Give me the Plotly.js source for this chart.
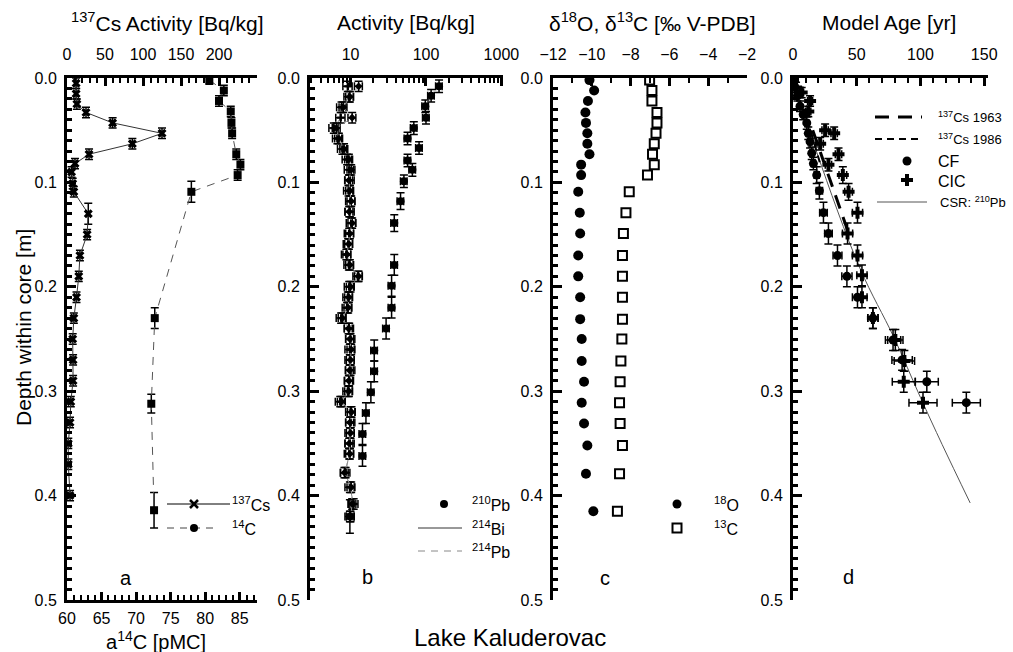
<!DOCTYPE html>
<html><head><meta charset="utf-8">
<script src="https://cdn.plot.ly/plotly-3.0.1.min.js"></script>
<style>body{margin:0;background:#fff}#g{width:1013px;height:652px}</style>
</head><body><div id="g"></div>
<script>
// ---------- Panel a : 137Cs and 14C ----------
const csDepth = [0.005,0.015,0.025,0.033,0.043,0.053,0.063,0.073,0.082,0.09,0.101,0.109,0.13,0.15,0.17,0.19,0.21,0.23,0.25,0.27,0.29,0.31,0.33,0.35,0.37,0.40];
const csAct   = [12,12,13,25,60,125,86,29,10.5,6,7.5,9,28,26.5,17,15.5,12.5,9,7.5,8,8,5,4,1.7,1.7,4];
const csErr   = [0.005,0.005,0.005,0.005,0.005,0.005,0.005,0.005,0.005,0.005,0.005,0.005,0.01,0.005,0.005,0.005,0.005,0.005,0.005,0.005,0.005,0.005,0.005,0.005,0.005,0.005];
const c14Depth = [0.002,0.012,0.022,0.032,0.043,0.053,0.073,0.083,0.093,0.109,0.23,0.312,0.414];
const c14pMC   = [80.6,82.7,82.0,83.7,83.8,83.9,84.5,85.1,84.7,78.0,72.7,72.2,72.6];
const c14Err   = [0.004,0.005,0.005,0.005,0.005,0.005,0.005,0.005,0.005,0.01,0.01,0.009,0.017];
// ---------- Panel b : 210Pb, 214Bi, 214Pb ----------
const pb210Depth = [0.008,0.017,0.027,0.038,0.048,0.058,0.067,0.079,0.088,0.099,0.118,0.139,0.179,0.199,0.22,0.24,0.261,0.281,0.301,0.321,0.341,0.362,0.42];
const pb210      = [149,117,98,100,69,57,81,57,66,51,46,38,38,35,35,29.6,20.6,20.6,18.6,16,14.4,14.4,9.8];
const pb210ErrY  = [0.006,0.006,0.006,0.006,0.006,0.006,0.006,0.006,0.006,0.006,0.008,0.008,0.01,0.01,0.01,0.01,0.01,0.01,0.01,0.01,0.01,0.01,0.016];
const rnDepth = [0.008,0.018,0.028,0.038,0.048,0.058,0.068,0.078,0.088,0.098,0.108,0.118,0.128,0.139,0.149,0.159,0.169,0.179,0.19,0.2,0.21,0.22,0.23,0.24,0.25,0.26,0.27,0.28,0.29,0.3,0.31,0.32,0.33,0.34,0.35,0.36,0.378,0.392,0.408,0.42];
const bi214 = [9.2,9.5,7.6,7.4,6.0,6.7,7.8,9.0,9.6,9.8,9.4,10.0,9.8,10.2,9.6,9.3,8.8,9.5,12.5,9.6,9.2,9.0,7.5,9.6,10.0,9.8,9.8,10.0,9.6,9.2,7.3,10.0,10.0,9.8,9.8,9.6,8.6,9.8,11.0,9.8];
const pb214 = [12.8,9.8,8.0,10.5,6.5,7.0,8.2,9.5,10.2,9.5,9.8,10.2,9.6,10.5,9.8,9.5,9.0,9.8,12.8,10.0,9.5,9.3,7.8,9.4,9.8,10.2,10.0,9.7,9.5,9.5,7.6,10.3,9.8,10.0,9.6,9.8,8.3,10.2,10.5,10.0];
// ---------- Panel c : stable isotopes ----------
const isoDepth = [0.002,0.012,0.022,0.033,0.043,0.053,0.063,0.073,0.083,0.093,0.109,0.129,0.149,0.170,0.190,0.210,0.231,0.250,0.271,0.291,0.311,0.331,0.352,0.379,0.415];
const d18O = [-10.12,-9.88,-10.2,-10.33,-10.3,-10.23,-10.23,-10.12,-10.55,-10.55,-10.7,-10.62,-10.6,-10.7,-10.7,-10.6,-10.6,-10.52,-10.52,-10.4,-10.52,-10.4,-10.23,-10.3,-9.92];
const d13C = [-7.02,-6.9,-6.9,-6.64,-6.64,-6.69,-6.78,-6.87,-6.78,-7.13,-8.07,-8.24,-8.37,-8.42,-8.42,-8.42,-8.42,-8.45,-8.5,-8.54,-8.57,-8.54,-8.42,-8.57,-8.68];
// ---------- Panel d : model ages ----------
const cfDepth = [0.002,0.009,0.017,0.027,0.035,0.043,0.053,0.061,0.072,0.082,0.093,0.108,0.129,0.149,0.170,0.190,0.210,0.230,0.251,0.270,0.291,0.311];
const cfAge   = [0,1.6,3.5,5.5,8,10.8,12,13.4,14.7,16,18.6,20.7,23.9,27.8,34.9,42.3,50.6,62.7,78.5,85.6,105,136];
const cfErrX  = [0.5,0.5,0.8,1,1.2,1.5,1.5,1.5,1.5,1.7,2,2.5,3,3,3.5,4,4,4,6,8,9,11];
const cicDepth = [0.002,0.009,0.014,0.022,0.032,0.05,0.053,0.063,0.073,0.083,0.093,0.109,0.129,0.149,0.170,0.189,0.210,0.230,0.251,0.271,0.291,0.311];
const cicAge   = [0,2.4,6.8,13.4,12,25.2,32.3,21.3,35.7,27.8,39.1,43.6,50.6,42.8,50.6,54.1,54.1,62.7,80.3,87.4,86.9,102];
const cicErrX  = [0.5,1,1.5,2,2,2.5,2.5,2.5,2.5,2.5,3,3,4,4,4,4,4,4,6,8,9,11];
const dErrY    = [0.004,0.005,0.005,0.005,0.005,0.006,0.006,0.006,0.006,0.006,0.008,0.008,0.01,0.01,0.01,0.01,0.01,0.01,0.01,0.01,0.01,0.01];
const cs1963Age = [15.5, 44];   const cs1963Depth = [0.05, 0.15];
const cs1986Age = [9, 22];      const cs1986Depth = [0.03, 0.085];
const csrAge   = [0, 18.6, 52.8, 79, 100, 117, 139];
const csrDepth = [0, 0.071, 0.183, 0.248, 0.306, 0.351, 0.407];

// tick labels
const depthTicks = [0,0.1,0.2,0.3,0.4,0.5];
const depthLabels = ['0.0','0.1','0.2','0.3','0.4','0.5'];
const csTicks = [0,50,100,150,200];
const c14Ticks = [60,65,70,75,80,85];
const actTicks = [10,100,1000];
const isoTicks = [-12,-10,-8,-6,-4,-2];
const ageTicks = [0,50,100,150];

const FONT = 'Liberation Sans, Arial, sans-serif';
const W = 1013, H = 652;
const px = x => x / W, py = y => 1 - y / H;
const yDom = [py(600), py(78)];

function yAx(anchor, extra) {
  return Object.assign({
    anchor: anchor, domain: yDom, range: [0.5, 0], autorange: false,
    tickmode: 'array', tickvals: depthTicks, ticktext: depthLabels,
    ticks: 'inside', ticklen: 9, tickwidth: 3, tickcolor: 'black',
    showline: true, linewidth: 3, linecolor: 'black', mirror: false,
    showgrid: false, zeroline: false, ticklabelstandoff: 4,
    tickfont: {family: FONT, size: 16, color: 'black'},
    minor: {tickmode: 'linear', tick0: 0, dtick: 0.01, ticks: 'inside', ticklen: 5, tickwidth: 3, tickcolor: 'black', showgrid: false}
  }, extra || {});
}
function xAx(dom, anchor, extra) {
  return Object.assign({
    domain: [px(dom[0]), px(dom[1])], anchor: anchor, side: 'top',
    ticks: 'inside', ticklen: 8, tickwidth: 3, tickcolor: 'black',
    showline: true, linewidth: 3, linecolor: 'black',
    showgrid: false, zeroline: false, ticklabelstandoff: 9,
    tickfont: {family: FONT, size: 16, color: 'black'}
  }, extra || {});
}
function logMinor() {
  const v = [];
  for (const dec of [1, 10, 100]) for (let k = 2; k <= 9; k++) v.push(k * dec);
  return v;
}

const errStyle = {color: 'black', thickness: 1.5, width: 4};
const traces = [
  {x: csAct, y: csDepth, xaxis: 'x', yaxis: 'y', mode: 'lines+markers', type: 'scatter',
   line: {color: '#333', width: 1}, marker: {symbol: 'x', size: 8, color: 'black'},
   error_y: Object.assign({type: 'data', array: csErr}, errStyle)},
  {x: c14pMC, y: c14Depth, xaxis: 'x5', yaxis: 'y', mode: 'lines+markers', type: 'scatter',
   line: {color: '#555', width: 1, dash: '8px,7px'}, marker: {symbol: 'square', size: 8, color: 'black'},
   error_y: Object.assign({type: 'data', array: c14Err}, errStyle)},
  {x: bi214, y: rnDepth, xaxis: 'x2', yaxis: 'y2', mode: 'lines+markers', type: 'scatter',
   line: {color: '#888', width: 1}, marker: {symbol: 'cross', size: 6, color: 'black'},
   error_x: Object.assign({type: 'percent', value: 14}, errStyle),
   error_y: Object.assign({type: 'constant', value: 0.005}, errStyle)},
  {x: pb214, y: rnDepth, xaxis: 'x2', yaxis: 'y2', mode: 'lines+markers', type: 'scatter',
   line: {color: '#999', width: 1, dash: '5px,4px'}, marker: {symbol: 'diamond', size: 6, color: 'black'},
   error_x: Object.assign({type: 'percent', value: 12}, errStyle),
   error_y: Object.assign({type: 'constant', value: 0.005}, errStyle)},
  {x: pb210, y: pb210Depth, xaxis: 'x2', yaxis: 'y2', mode: 'markers', type: 'scatter',
   marker: {symbol: 'circle', size: 8, color: 'black'},
   error_x: Object.assign({type: 'percent', value: 10}, errStyle),
   error_y: Object.assign({type: 'data', array: pb210ErrY}, errStyle)},
  {x: d18O, y: isoDepth, xaxis: 'x3', yaxis: 'y3', mode: 'markers', type: 'scatter',
   marker: {symbol: 'circle', size: 10, color: 'black'}},
  {x: d13C, y: isoDepth, xaxis: 'x3', yaxis: 'y3', mode: 'markers', type: 'scatter',
   marker: {symbol: 'square-open', size: 9, color: 'black', line: {width: 2, color: 'black'}}},
  {x: csrAge, y: csrDepth, xaxis: 'x4', yaxis: 'y4', mode: 'lines', type: 'scatter',
   line: {color: '#555', width: 1, shape: 'spline'}},
  {x: cs1963Age, y: cs1963Depth, xaxis: 'x4', yaxis: 'y4', mode: 'lines', type: 'scatter',
   line: {color: 'black', width: 3, dash: '14px,9px'}},
  {x: cs1986Age, y: cs1986Depth, xaxis: 'x4', yaxis: 'y4', mode: 'lines', type: 'scatter',
   line: {color: 'black', width: 2, dash: '7px,5px'}},
  {x: cfAge, y: cfDepth, xaxis: 'x4', yaxis: 'y4', mode: 'markers', type: 'scatter',
   marker: {symbol: 'circle', size: 9, color: 'black'},
   error_x: Object.assign({type: 'data', array: cfErrX}, errStyle),
   error_y: Object.assign({type: 'data', array: dErrY}, errStyle)},
  {x: cicAge, y: cicDepth, xaxis: 'x4', yaxis: 'y4', mode: 'markers', type: 'scatter',
   marker: {symbol: 'cross', size: 10, color: 'black'},
   error_x: Object.assign({type: 'data', array: cicErrX}, errStyle),
   error_y: Object.assign({type: 'data', array: dErrY}, errStyle)}
];

// ---------- legend decorations (drawn in pixel space) ----------
const shapes = [];
function hline(x0, x1, y, dash, w, col) {
  shapes.push({type: 'line', xref: 'paper', yref: 'paper', x0: px(x0), x1: px(x1), y0: py(y), y1: py(y),
    line: {color: col || 'black', width: w || 1, dash: dash || 'solid'}});
}
function dot(cx, cy, r) {
  shapes.push({type: 'circle', xref: 'paper', yref: 'paper', x0: px(cx - r), x1: px(cx + r), y0: py(cy + r), y1: py(cy - r),
    fillcolor: 'black', line: {color: 'black', width: 0}});
}
function sqOpen(cx, cy, h) {
  shapes.push({type: 'rect', xref: 'paper', yref: 'paper', x0: px(cx - h), x1: px(cx + h), y0: py(cy + h), y1: py(cy - h),
    fillcolor: 'rgba(0,0,0,0)', line: {color: 'black', width: 2}});
}
function seg(x0, y0, x1, y1, w) {
  shapes.push({type: 'line', xref: 'paper', yref: 'paper', x0: px(x0), x1: px(x1), y0: py(y0), y1: py(y1),
    line: {color: 'black', width: w}});
}
// panel a
hline(167, 230, 504, 'solid', 1); seg(190, 500, 198, 508, 2.5); seg(190, 508, 198, 500, 2.5);
hline(167, 213, 528, '7px,6px', 1, '#444'); dot(194, 528, 4);
// panel b
dot(444, 504, 4);
hline(418, 462, 528, 'solid', 1, '#333');
hline(418, 462, 551, '7px,6px', 1, '#888');
// panel c
dot(677, 504, 4.5); sqOpen(677, 528, 4.5);
// panel d
hline(875, 922, 117, '14px,9px', 3);
hline(875, 922, 139, '7px,5px', 2);
dot(907, 161, 4.5);
seg(901, 180, 913, 180, 4); seg(907, 174, 907, 186, 4);
hline(877, 927, 202, 'solid', 1, '#555');

const ann = [];
function txt(x, y, t, size, extra) {
  ann.push(Object.assign({xref: 'paper', yref: 'paper', x: px(x), y: py(y), text: t, showarrow: false,
    xanchor: 'center', yanchor: 'middle', font: {family: FONT, size: size, color: 'black'}}, extra || {}));
}
txt(167, 22, '<sup>137</sup>Cs Activity [Bq/kg]', 21);
txt(406, 22, 'Activity [Bq/kg]', 21);
txt(652, 22, 'δ<sup>18</sup>O, δ<sup>13</sup>C [‰ V-PDB]', 21);
txt(889, 22, 'Model Age [yr]', 21);
txt(156, 640, 'a<sup>14</sup>C [pMC]', 20);
txt(510, 637, 'Lake Kaluderovac', 24);
txt(23, 328, 'Depth within core [m]', 21, {textangle: -90});
txt(126, 578, 'a', 20); txt(367, 577, 'b', 20); txt(605, 578, 'c', 20); txt(848, 577, 'd', 20);
// legend texts
txt(230, 504, '<sup>137</sup>Cs', 16, {xanchor: 'left'});
txt(230, 528, '<sup>14</sup>C', 16, {xanchor: 'left'});
txt(470, 504, '<sup>210</sup>Pb', 16, {xanchor: 'left'});
txt(470, 528, '<sup>214</sup>Bi', 16, {xanchor: 'left'});
txt(470, 551, '<sup>214</sup>Pb', 16, {xanchor: 'left'});
txt(712, 504, '<sup>18</sup>O', 16, {xanchor: 'left'});
txt(712, 528, '<sup>13</sup>C', 16, {xanchor: 'left'});
txt(936, 117, '<sup>137</sup>Cs 1963', 13, {xanchor: 'left'});
txt(936, 139, '<sup>137</sup>Cs 1986', 13, {xanchor: 'left'});
txt(936, 161, 'CF', 16, {xanchor: 'left'});
txt(936, 181, 'CIC', 16, {xanchor: 'left'});
txt(938, 202, 'CSR: <sup>210</sup>Pb', 13, {xanchor: 'left'});

const layout = {
  width: W, height: H, margin: {l: 0, r: 0, t: 0, b: 0},
  paper_bgcolor: 'white', plot_bgcolor: 'rgba(0,0,0,0)', showlegend: false,
  font: {family: FONT, color: 'black'},
  xaxis: xAx([67, 257], 'y', {range: [0, 250], tickmode: 'array', tickvals: csTicks,
    minor: {tickmode: 'linear', tick0: 0, dtick: 10, ticks: 'inside', ticklen: 5, tickwidth: 2, tickcolor: 'black'}}),
  xaxis5: Object.assign(xAx([67, 257], 'y', {range: [60, 87.5], tickmode: 'array', tickvals: c14Ticks,
    minor: {tickmode: 'linear', tick0: 60, dtick: 1, ticks: 'inside', ticklen: 5, tickwidth: 2, tickcolor: 'black'}}),
    {side: 'bottom', overlaying: 'x', ticklabelstandoff: 2}),
  xaxis2: xAx([310, 503], 'y2', {type: 'log', range: [Math.log10(2.9), Math.log10(1050)], tickmode: 'array', tickvals: actTicks, ticktext: ['10', '100', '1000'],
    minor: {tickmode: 'array', tickvals: logMinor(), ticks: 'inside', ticklen: 5, tickwidth: 2, tickcolor: 'black'}}),
  xaxis3: xAx([553, 747], 'y3', {range: [-12, -2], tickmode: 'array', tickvals: isoTicks,
    minor: {tickmode: 'linear', tick0: -12, dtick: 1, ticks: 'inside', ticklen: 5, tickwidth: 2, tickcolor: 'black'}}),
  xaxis4: xAx([793, 988], 'y4', {range: [0, 153], tickmode: 'array', tickvals: ageTicks,
    minor: {tickmode: 'linear', tick0: 0, dtick: 10, ticks: 'inside', ticklen: 5, tickwidth: 2, tickcolor: 'black'}}),
  yaxis: yAx('x'), yaxis2: yAx('x2'), yaxis3: yAx('x3'), yaxis4: yAx('x4'),
  shapes: shapes, annotations: ann
};
Plotly.newPlot('g', traces, layout, {displayModeBar: false, staticPlot: true});
</script></body></html>
